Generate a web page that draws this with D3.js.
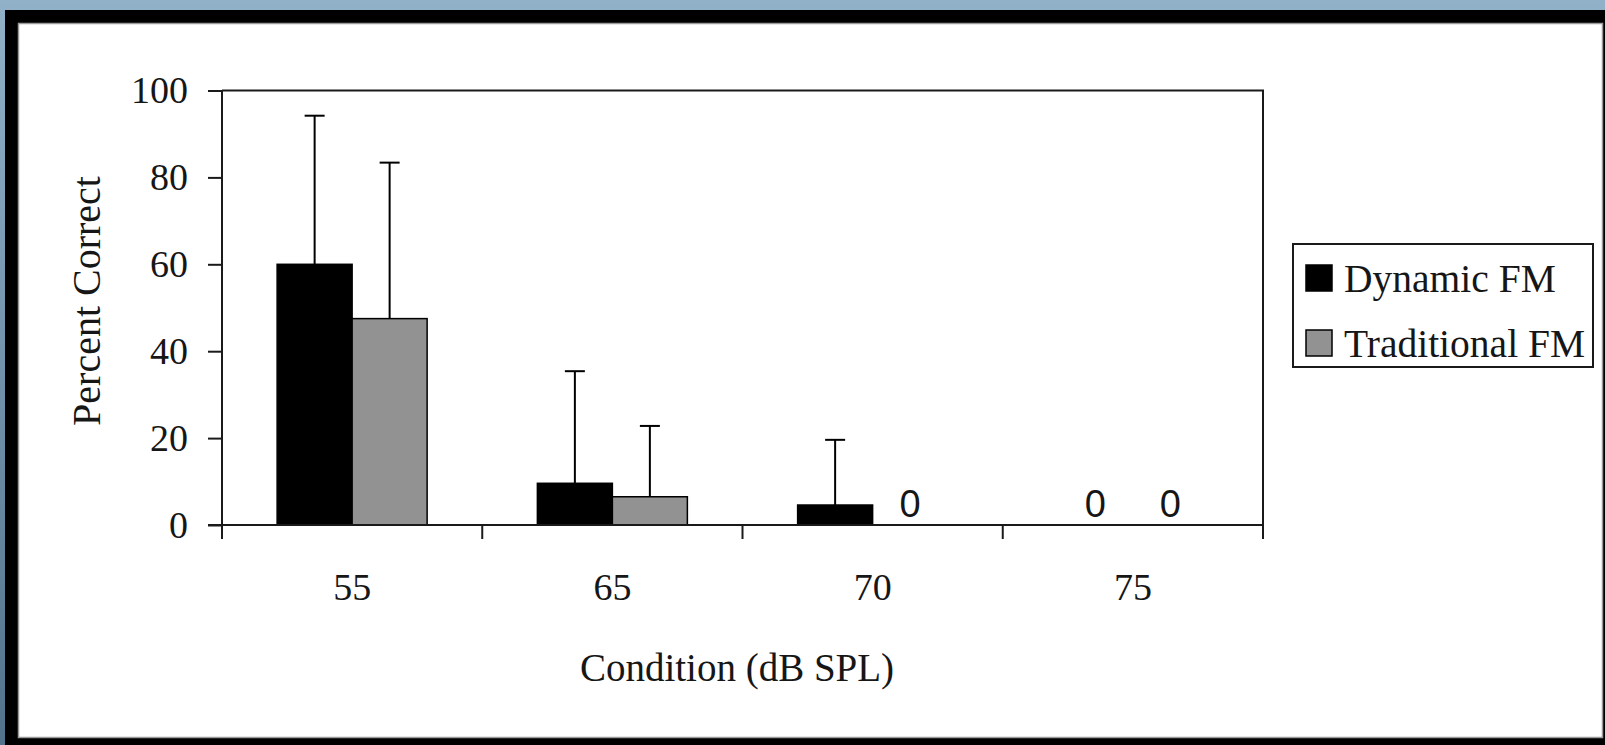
<!DOCTYPE html>
<html>
<head>
<meta charset="utf-8">
<script src="https://cdn.jsdelivr.net/npm/d3@7"></script>
<style>
  html, body { margin: 0; padding: 0; background: #8fb0c7; }
  svg { display: block; }
</style>
</head>
<body>
<svg id="chart" width="1605" height="745"></svg>
<script>
// Speech recognition scores by presentation level
const categories = ["55", "65", "70", "75"];
const seriesNames = ["Dynamic FM", "Traditional FM"];
const dynamicFM = [60, 9.6, 4.6, 0];
const traditionalFM = [47.5, 6.5, 0, 0];
// upper error bar lengths (one standard deviation)
const dynamicErr = [34.2, 25.8, 15.0, 0];
const traditionalErr = [35.9, 16.3, 0, 0];
const yTicks = [0, 20, 40, 60, 80, 100];
const seriesColors = ["#000000", "#929292"];

const svg = d3.select("#chart");
const W = 1605, H = 745;

// backdrop and framed white panel
const defs = svg.append("defs");
const grad = defs.append("linearGradient").attr("id", "bg")
  .attr("x1", 0).attr("y1", 0).attr("x2", 0).attr("y2", 1);
grad.append("stop").attr("offset", "0%").attr("stop-color", "#90b1c8");
grad.append("stop").attr("offset", "100%").attr("stop-color", "#52728c");
svg.append("rect").attr("width", W).attr("height", H).attr("fill", "url(#bg)");
svg.append("rect").attr("x", 5).attr("y", 10).attr("width", W - 5).attr("height", H - 10).attr("fill", "#000");
svg.append("rect").attr("x", 18.5).attr("y", 23.5).attr("width", 1584).attr("height", 714)
  .attr("fill", "#fff").attr("stroke", "#9a9a9a").attr("stroke-width", 1.5);

const plot = { left: 222, right: 1263, top: 90.5, bottom: 525 };
const serif = "'Liberation Serif', 'Times New Roman', serif";
const ink = "#161616";

const x0 = d3.scaleBand().domain(categories).range([plot.left, plot.right]).padding(0);
const x1 = d3.scaleBand().domain(seriesNames).range([0, x0.bandwidth()])
  .paddingInner(0).paddingOuter(0.735);
const y = d3.scaleLinear().domain([0, 100]).range([plot.bottom, plot.top]);

const rows = categories.map((c, i) => ({
  cat: c,
  vals: [
    { s: seriesNames[0], v: dynamicFM[i], e: dynamicErr[i], color: seriesColors[0] },
    { s: seriesNames[1], v: traditionalFM[i], e: traditionalErr[i], color: seriesColors[1] }
  ]
}));

const g = svg.append("g");

// bars
const groups = g.selectAll("g.cat").data(rows).join("g")
  .attr("class", "cat")
  .attr("transform", d => `translate(${x0(d.cat)},0)`);

groups.selectAll("rect").data(d => d.vals.filter(v => v.v > 0)).join("rect")
  .attr("x", d => x1(d.s))
  .attr("y", d => y(d.v))
  .attr("width", x1.bandwidth())
  .attr("height", d => y(0) - y(d.v))
  .attr("fill", d => d.color)
  .attr("stroke", "#000")
  .attr("stroke-width", 1.5);

// upper error bars
const errs = groups.selectAll("g.err").data(d => d.vals.filter(v => v.e > 0)).join("g").attr("class", "err");
errs.append("line")
  .attr("x1", d => x1(d.s) + x1.bandwidth() / 2)
  .attr("x2", d => x1(d.s) + x1.bandwidth() / 2)
  .attr("y1", d => y(d.v))
  .attr("y2", d => y(d.v + d.e))
  .attr("stroke", "#000").attr("stroke-width", 2);
errs.append("line")
  .attr("x1", d => x1(d.s) + x1.bandwidth() / 2 - 10)
  .attr("x2", d => x1(d.s) + x1.bandwidth() / 2 + 10)
  .attr("y1", d => y(d.v + d.e))
  .attr("y2", d => y(d.v + d.e))
  .attr("stroke", "#000").attr("stroke-width", 2);

// zero-value labels
groups.selectAll("text.zero").data(d => d.vals.filter(v => v.v === 0)).join("text")
  .attr("class", "zero")
  .attr("x", d => x1(d.s) + x1.bandwidth() / 2)
  .attr("y", y(0) - 8)
  .attr("text-anchor", "middle")
  .attr("font-family", "'Liberation Sans', Arial, sans-serif")
  .attr("font-size", 38)
  .attr("fill", ink)
  .text(d => String(d.v));

// plot frame (top and right)
g.append("path")
  .attr("d", `M${plot.left},${plot.top}H${plot.right}V${plot.bottom}`)
  .attr("fill", "none").attr("stroke", "#1a1a1a").attr("stroke-width", 2);

// y axis
const yAxis = d3.axisLeft(y).tickValues(yTicks).tickSize(14).tickPadding(20);
const ya = svg.append("g").attr("transform", `translate(${plot.left},0)`).call(yAxis);
ya.select(".domain").attr("stroke", "#1a1a1a").attr("stroke-width", 2).attr("d", `M0,${plot.bottom + 14}V${plot.top}`);
ya.selectAll(".tick line").attr("stroke", "#1a1a1a").attr("stroke-width", 2);
ya.selectAll(".tick text").attr("font-family", serif).attr("font-size", 38).attr("fill", ink);

// x axis: ticks at category boundaries, labels centered in each band
const boundaries = categories.map(c => x0(c)).concat([plot.right]);
const xa = svg.append("g").attr("transform", `translate(0,${plot.bottom})`);
xa.append("line").attr("x1", plot.left - 14).attr("x2", plot.right).attr("y1", 0).attr("y2", 0)
  .attr("stroke", "#1a1a1a").attr("stroke-width", 2);
xa.selectAll("line.tick").data(boundaries).join("line").attr("class", "tick")
  .attr("x1", d => d).attr("x2", d => d).attr("y1", 0).attr("y2", 14)
  .attr("stroke", "#1a1a1a").attr("stroke-width", 2);
xa.selectAll("text").data(categories).join("text")
  .attr("x", d => x0(d) + x0.bandwidth() / 2)
  .attr("y", 75)
  .attr("text-anchor", "middle")
  .attr("font-family", serif).attr("font-size", 38).attr("fill", ink)
  .text(d => d);

// axis titles
svg.append("text")
  .attr("x", 737).attr("y", 681)
  .attr("text-anchor", "middle")
  .attr("font-family", serif).attr("font-size", 39).attr("fill", ink)
  .text("Condition (dB SPL)");
svg.append("text")
  .attr("transform", "translate(100,301) rotate(-90)")
  .attr("text-anchor", "middle")
  .attr("font-family", serif).attr("font-size", 40).attr("fill", ink)
  .text("Percent Correct");

// legend
const lg = svg.append("g").attr("transform", "translate(1293,244)");
lg.append("rect").attr("width", 300).attr("height", 123)
  .attr("fill", "#fff").attr("stroke", "#1a1a1a").attr("stroke-width", 2);
const items = lg.selectAll("g.item").data(seriesNames).join("g").attr("class", "item")
  .attr("transform", (d, i) => `translate(13,${21 + i * 65})`);
items.append("rect").attr("width", 26).attr("height", 26)
  .attr("fill", (d, i) => seriesColors[i]).attr("stroke", "#000").attr("stroke-width", 1.5);
items.append("text").attr("x", 38).attr("y", 27)
  .attr("font-family", serif).attr("font-size", 39.5).attr("fill", ink)
  .text(d => d);
</script>
</body>
</html>
